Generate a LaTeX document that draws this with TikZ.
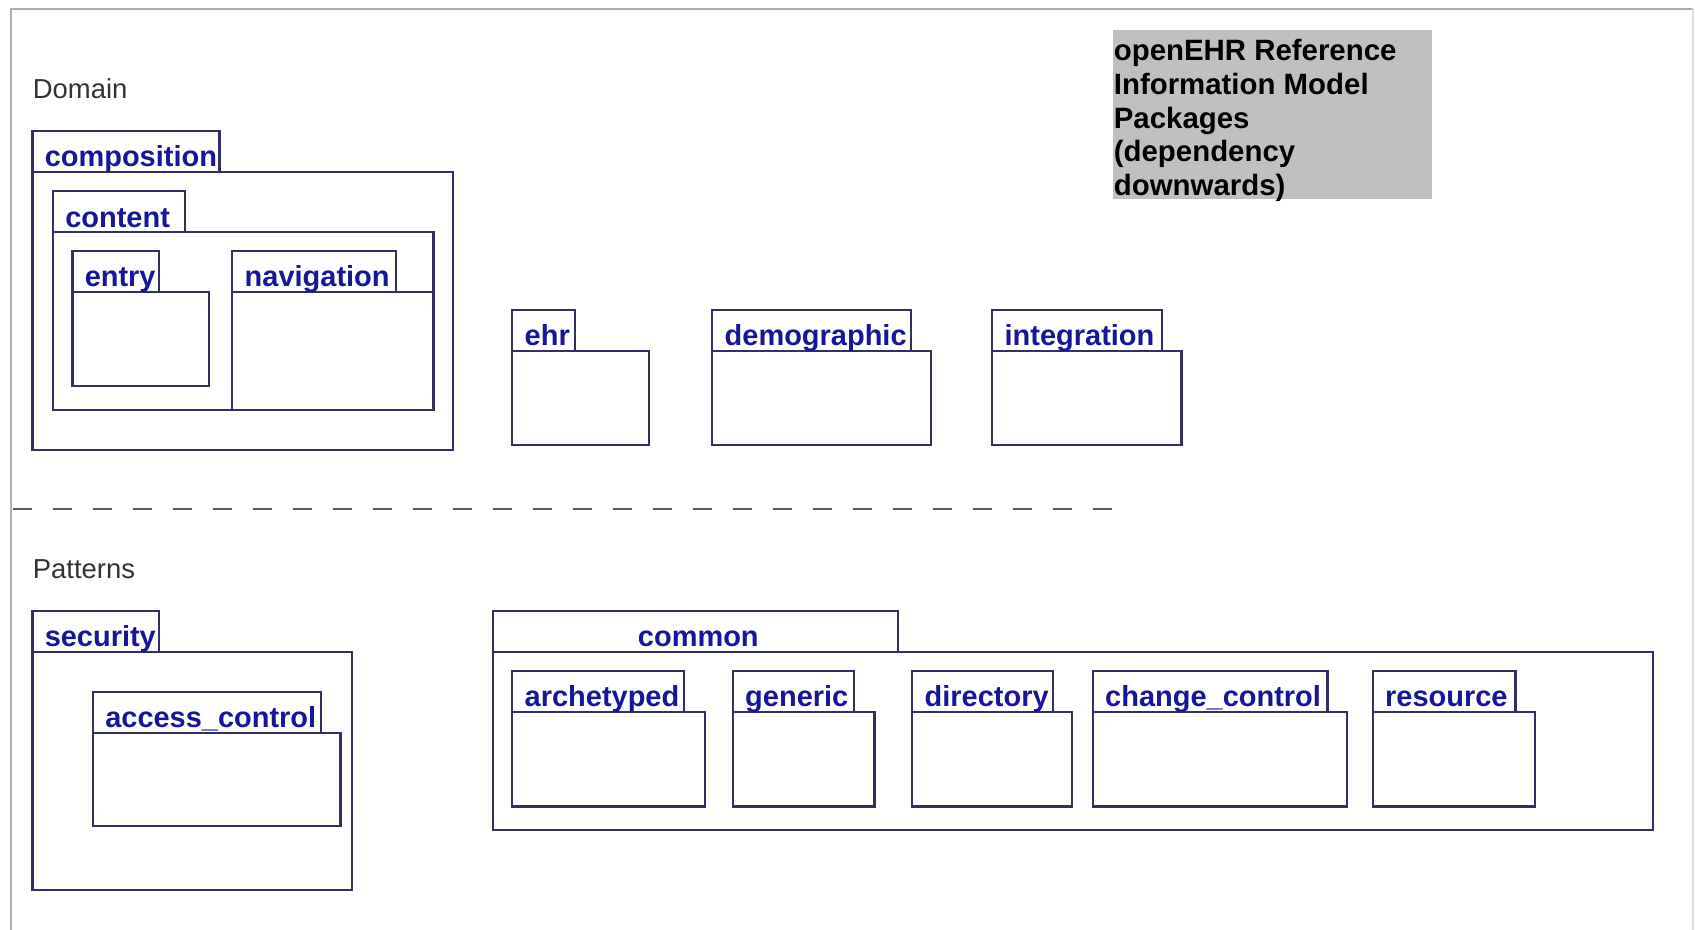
\documentclass[tikz,border=0pt]{standalone}
\usepackage{fontspec}
\setmainfont{Liberation Sans}

\definecolor{pkgline}{RGB}{48,48,100}
\definecolor{pkgtext}{RGB}{22,22,155}
\definecolor{framegray}{RGB}{175,175,175}
\definecolor{notegray}{RGB}{192,192,192}

\tikzset{
    pkgbox/.style={draw=pkgline,line width=1pt},
    pkglabel/.style={text=pkgtext,font=\fontsize{13.4}{16}\selectfont\bfseries,inner sep=0pt,anchor=base west},
    layerlabel/.style={text=black!80,font=\fontsize{12.7}{15}\selectfont,inner sep=0pt,anchor=base west},
}

% package: name, text, left, tab top, tab right, body right, body bottom
\newcommand{\umlpkg}[7]{%
    \draw[pkgbox] (#3,#4) rectangle (#5,#4+38);
    \draw[pkgbox] (#3,#4+38) rectangle (#6,#7);
    \node[pkglabel] (#1) at (#3+11,#4+33) {#2};
}

\begin{document}
\begin{tikzpicture}[x=0.5pt,y=-0.5pt]
        \useasboundingbox (0,0) rectangle (1568,860);
        % frame
        \draw[framegray,line width=1pt] (10,860)--(10,8)--(1566,8);
        \draw[framegray!40,line width=1pt] (1566,8)--(1566,860);

        % title note
        \fill[notegray] (1030,28) rectangle (1325,184);
        \node[anchor=north west,inner sep=0pt,align=left,font=\fontsize{13.6}{15.6}\selectfont\bfseries] (title) at (1030,36)
            {openEHR Reference\\Information Model\\Packages\\(dependency\\downwards)};

        % domain layer
        \node[layerlabel] (domain) at (30,91) {Domain};
        \umlpkg{composition}{composition}{30}{121}{203}{419}{416}
        \umlpkg{content}{content}{49}{177}{171}{401}{379}
        \umlpkg{entry}{entry}{67}{232}{147}{193}{357}
        \umlpkg{navigation}{navigation}{215}{232}{366}{401}{379}
        \umlpkg{ehr}{ehr}{474}{287}{532}{600}{412}
        \umlpkg{demographic}{demographic}{659}{287}{843}{861}{412}
        \umlpkg{integration}{integration}{918}{287}{1075}{1093}{412}

        % layer border
        \draw[black!65,line width=1pt,dash pattern=on 9pt off 9.5pt] (12,471)--(1031,471);

        % patterns layer
        \node[layerlabel] (patterns) at (30,535) {Patterns};
        \umlpkg{security}{security}{30}{565}{147}{326}{823}
        \umlpkg{accesscontrol}{access\_control}{86}{640}{297}{315}{764}
        \draw[pkgbox] (456,565) rectangle (831,603);
        \draw[pkgbox] (456,603) rectangle (1529,768);
        \node[pkglabel,anchor=base] (common) at (646,598) {common};
        \umlpkg{archetyped}{archetyped}{474}{621}{633}{652}{746}
        \umlpkg{generic}{generic}{678}{621}{790}{809}{746}
        \umlpkg{directory}{directory}{844}{621}{974}{992}{746}
        \umlpkg{changecontrol}{change\_control}{1011}{621}{1228}{1246}{746}
        \umlpkg{resource}{resource}{1270}{621}{1402}{1420}{746}
    \end{tikzpicture}
\end{document}
